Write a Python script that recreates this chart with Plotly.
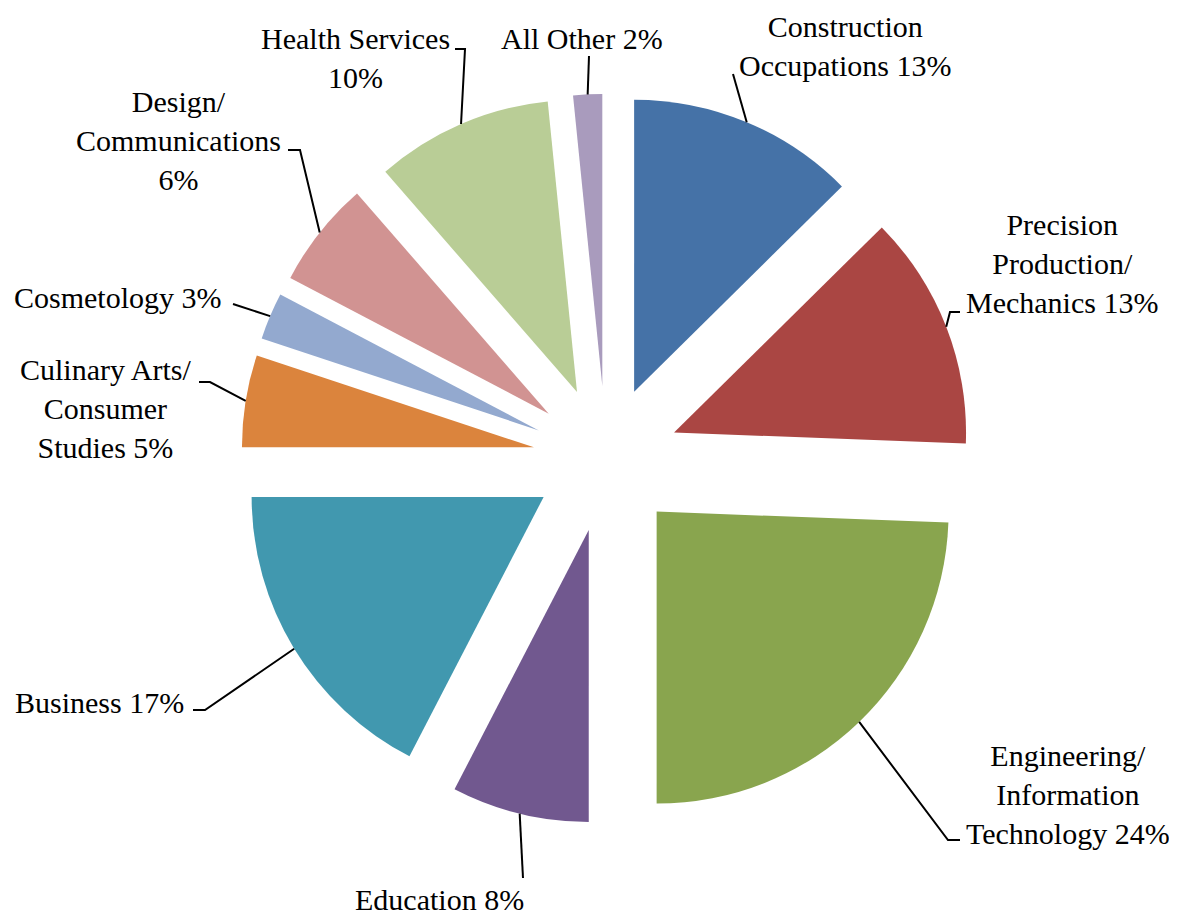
import math
import plotly.graph_objects as go

# ---------------- data ----------------
categories = [
    "Construction Occupations",
    "Precision Production/ Mechanics",
    "Engineering/ Information Technology",
    "Education",
    "Business",
    "Culinary Arts/ Consumer Studies",
    "Cosmetology",
    "Design/ Communications",
    "Health Services",
    "All Other",
]
# percentages (they round to the printed labels)
values = [12.6, 13.0, 24.4, 7.6, 17.4, 5.1, 2.6, 5.9, 9.8, 1.6]
label_templates = [
    "Construction<br>Occupations {:.0f}%",
    "Precision<br>Production/<br>Mechanics {:.0f}%",
    "Engineering/<br>Information<br>Technology {:.0f}%",
    "Education {:.0f}%",
    "Business {:.0f}%",
    "Culinary Arts/<br>Consumer<br>Studies {:.0f}%",
    "Cosmetology {:.0f}%",
    "Design/<br>Communications<br>{:.0f}%",
    "Health Services<br>{:.0f}%",
    "All Other {:.0f}%",
]
colors = ["#4572A7", "#AA4643", "#89A54E", "#71588F", "#4198AF",
          "#DB843D", "#93A9CF", "#D19392", "#B9CD96", "#A99BBD"]

# ---------------- layout (page pixels) ----------------
W, H = 1177, 916
OFF = 8            # default body margin of the html page
R = 292            # pie radius in px
PULL = 0.25        # explode fraction
CX, CY = 606, 459  # pie centre in page px (from top-left)

# label centre (x, y) and leader-line points (elbow/end) in page px
label_pos = [
    (845, 46), (1062, 263), (1068, 794), (439, 899), (99, 702),
    (105, 408), (118, 297), (178, 140), (355, 58), (582, 39),
]
leader_pts = [
    [(733, 74)],
    [(950, 312), (960, 312)],
    [(948, 840), (960, 840)],
    [(523, 878)],
    [(205, 710), (193, 710)],
    [(210, 382), (199, 382)],
    [(233, 304)],
    [(300, 150), (288, 150)],
    [(465, 49), (455, 49)],
    [(589, 56)],
]

def px(x):
    return (x - OFF) / W

def py(y):
    return 1 - (y - OFF) / H

half = R * (1 + PULL)
fig = go.Figure()
fig.add_trace(go.Pie(
    labels=categories,
    values=values,
    sort=False,
    direction="clockwise",
    rotation=0,
    pull=[PULL] * len(values),
    marker=dict(colors=colors, line=dict(width=0)),
    textinfo="none",
    hoverinfo="label+percent",
    showlegend=False,
    domain=dict(x=[px(CX - half), px(CX + half)],
                y=[py(CY + half), py(CY - half)]),
))

total = float(sum(values))
cum = 0.0
shapes = []
annotations = []
for i, v in enumerate(values):
    mid = (cum + v / 2.0) / total
    cum += v
    th = 2 * math.pi * mid
    sx, sy = math.sin(th), -math.cos(th)
    ax0 = CX + (1 + PULL) * R * sx
    ay0 = CY + (1 + PULL) * R * sy
    pts = [(ax0, ay0)] + leader_pts[i]
    path = "M " + " L ".join(f"{px(x):.5f},{py(y):.5f}" for x, y in pts)
    shapes.append(dict(type="path", xref="paper", yref="paper", path=path,
                       line=dict(color="black", width=2)))
    tx, ty = label_pos[i]
    annotations.append(dict(
        x=px(tx), y=py(ty), xref="paper", yref="paper",
        text=label_templates[i].format(100 * v / total), showarrow=False,
        xanchor="center", yanchor="middle", align="center",
        font=dict(family="Liberation Serif", size=30, color="black"),
    ))

fig.update_layout(
    width=W, height=H,
    margin=dict(l=0, r=0, t=0, b=0),
    paper_bgcolor="white", plot_bgcolor="white",
    shapes=shapes, annotations=annotations,
)

fig.write_html("out.html")
